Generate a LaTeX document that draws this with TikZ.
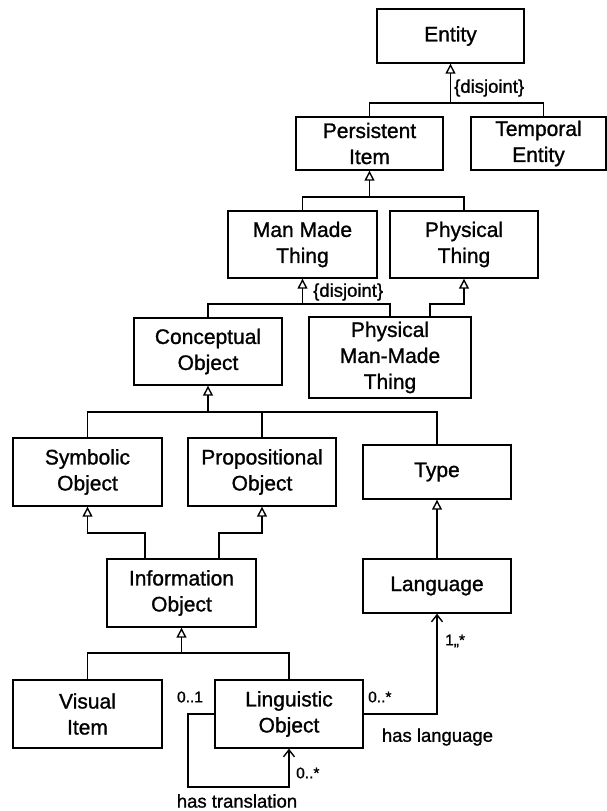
\documentclass[tikz,border=0pt]{standalone}
\usepackage{fontspec}
\setmainfont{Liberation Sans}[FakeBold=1.1]
\usetikzlibrary{arrows.meta}
\begin{document}
\begin{tikzpicture}[x=1pt,y=-1pt,
  cls/.style={draw, line width=1.4pt, fill=white, align=center, inner sep=0pt,
    font=\fontsize{21}{26}\selectfont},
  link/.style={line width=1.4pt},
  gen/.style={link, -{Triangle[open,length=10pt,width=10pt]}},
  assoc/.style={link, -{Straight Barb[length=7pt,width=11pt]}},
  lbl/.style={font=\fontsize{18.5}{22}\selectfont, inner sep=0pt},
  mult/.style={font=\fontsize{15.5}{18}\selectfont, inner sep=0pt}]

\fill[white] (0,0) rectangle (607,811);
\useasboundingbox (0,0) rectangle (607,811);

% classes
\node[cls, minimum width=147pt, minimum height=54pt] (entity)        at (450.5,36)  {Entity};
\node[cls, minimum width=147pt, minimum height=53pt] (persistent)    at (369.5,143.5) {Persistent\\Item};
\node[cls, minimum width=135pt, minimum height=53pt] (temporal)      at (538.5,143.5) {Temporal\\Entity};
\node[cls, minimum width=149pt, minimum height=67pt] (manmade)       at (302.5,244.5) {Man Made\\Thing};
\node[cls, minimum width=148pt, minimum height=67pt] (physical)      at (464,244.5)   {Physical\\Thing};
\node[cls, minimum width=148pt, minimum height=67pt] (conceptual)    at (208,351.5)   {Conceptual\\Object};
\node[cls, minimum width=162pt, minimum height=81pt] (pmmt)          at (390,357.5)   {Physical\\Man-Made\\Thing};
\node[cls, minimum width=149pt, minimum height=68pt] (symbolic)      at (87.5,472)    {Symbolic\\Object};
\node[cls, minimum width=148pt, minimum height=68pt] (propositional) at (262,472)     {Propositional\\Object};
\node[cls, minimum width=148pt, minimum height=54pt] (type)          at (437,472)     {Type};
\node[cls, minimum width=149pt, minimum height=68pt] (information)   at (181.5,593)   {Information\\Object};
\node[cls, minimum width=148pt, minimum height=54pt] (language)      at (437,586)     {Language};
\node[cls, minimum width=149pt, minimum height=68pt] (visual)        at (87.5,714)    {Visual\\Item};
\node[cls, minimum width=148pt, minimum height=68pt] (linguistic)    at (289,714)     {Linguistic\\Object};

% generalisation junctions
\coordinate (jE) at (450.5,103);
\coordinate (jP) at (369.5,197);
\coordinate (jM) at (302.5,304);
\coordinate (jC) at (208,412);
\coordinate (jI) at (181.5,533);
\coordinate (jV) at (181.5,653);
\coordinate (tL) at (188,787);

% Entity
\draw[link] (persistent.north) |- (jE);
\draw[link] ([xshift=5pt]temporal.north) |- (jE);
\draw[gen] (jE) -- (entity.south);
\node[lbl, anchor=west] (dj1) at (454,88) {\{disjoint\}};

% Persistent Item
\draw[link] (manmade.north) |- (jP);
\draw[link] (physical.north) |- (jP);
\draw[gen] (jP) -- (persistent.south);

% Man Made Thing
\draw[link] (conceptual.north) |- (jM);
\draw[link] (pmmt.north) |- (jM);
\draw[gen] (jM) -- (manmade.south);
\node[lbl, anchor=west] (dj2) at (313,292) {\{disjoint\}};

% Physical Thing
\draw[gen] ([xshift=40pt]pmmt.north) |- (physical.south |- jM) -- (physical.south);

% Conceptual Object
\draw[link] (symbolic.north) |- (jC);
\draw[link] (type.north) |- (jC);
\draw[link] (propositional.north) -- (propositional.north |- jC);
\draw[gen] (jC) -- (conceptual.south);

% Information Object to Symbolic / Propositional Object
\draw[gen] ([xshift=-36.5pt]information.north) |- (symbolic.south |- jI) -- (symbolic.south);
\draw[gen] ([xshift=37.5pt]information.north) |- (propositional.south |- jI) -- (propositional.south);

% Language to Type
\draw[gen] (language.north) -- (type.south);

% Information Object
\draw[link] (visual.north) |- (jV);
\draw[link] (linguistic.north) |- (jV);
\draw[gen] (jV) -- (information.south);

% associations
\draw[assoc] (linguistic.east) -| (language.south);
\draw[assoc] (linguistic.west) -| (tL) -| (linguistic.south);

\node[mult] (m01) at (190,697) {0..1};
\node[mult, anchor=west] (m0s) at (368,697) {0..*};
\node[mult, anchor=west] (m1s) at (445,641) {1,,*};
\node[mult, anchor=west] (m0t) at (296,773) {0..*};
\node[lbl] (hl) at (437.5,737) {has language};
\node[lbl] (ht) at (237,801) {has translation};
\end{tikzpicture}
\end{document}
